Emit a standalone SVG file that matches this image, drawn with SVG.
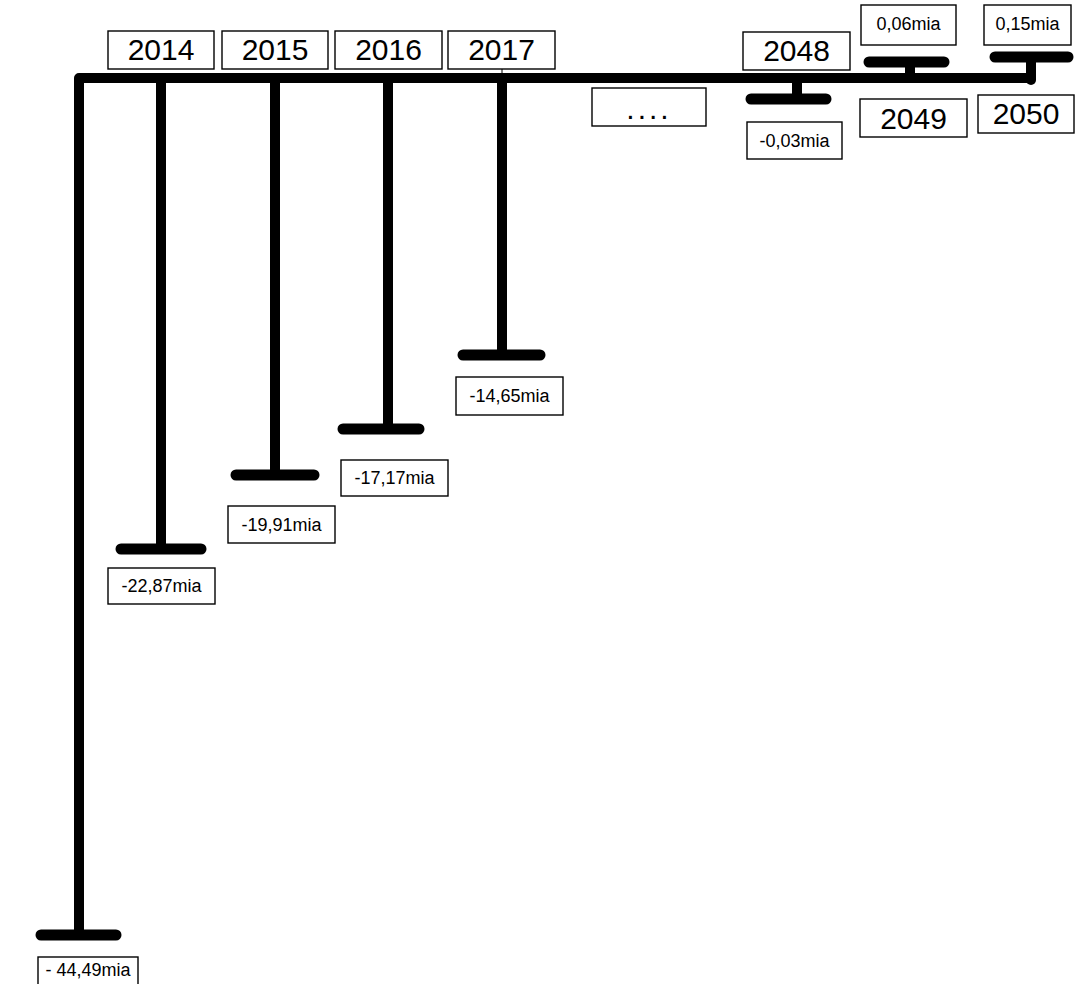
<svg xmlns="http://www.w3.org/2000/svg" width="1075" height="984" viewBox="0 0 1075 984">
<style>
.bar{fill:none;stroke:#000;stroke-width:10;stroke-linecap:round;stroke-linejoin:round}
.cap{fill:none;stroke:#000;stroke-width:11;stroke-linecap:round}
.box{fill:#fff;stroke:#000;stroke-width:1.4}
.yr{font-family:"Liberation Sans",Arial,sans-serif;font-size:30px;text-anchor:middle;fill:#000}
.val{font-family:"Liberation Sans",Arial,sans-serif;font-size:18px;text-anchor:middle;fill:#000}
</style>
<rect width="1075" height="984" fill="#fff"/>
<g id="connectors">
<path class="bar" d="M79,935 V78 H1031"/>
<line x1="502" y1="69" x2="502" y2="78" stroke="#000" stroke-width="1"/>
<path class="bar" d="M161,78 V549"/>
<path class="cap" d="M121,549 H201"/>
<path class="bar" d="M275,78 V475"/>
<path class="cap" d="M236,475 H314"/>
<path class="bar" d="M388,78 V429"/>
<path class="cap" d="M343,429 H419"/>
<path class="bar" d="M502,78 V355"/>
<path class="cap" d="M463,355 H540"/>
<path class="bar" d="M797,78 V99"/>
<path class="cap" d="M751,99 H826"/>
<path class="bar" d="M910,78 V62"/>
<path class="cap" d="M869,62 H944"/>
<path class="bar" d="M1031,80 V57"/>
<path class="cap" d="M995,57 H1068"/>
<path class="cap" d="M41,935 H116"/>
</g>
<g id="y2014"><rect class="box" x="108" y="31" width="106" height="38"/><text class="yr" x="161" y="60">2014</text></g>
<g id="y2015"><rect class="box" x="222" y="31" width="106" height="38"/><text class="yr" x="275" y="60">2015</text></g>
<g id="y2016"><rect class="box" x="335" y="31" width="107" height="38"/><text class="yr" x="388.5" y="60">2016</text></g>
<g id="y2017"><rect class="box" x="448" y="31" width="107" height="38"/><text class="yr" x="501.5" y="60">2017</text></g>
<g id="dots"><rect class="box" x="592" y="88" width="114" height="38"/><text class="yr" x="649" y="119" font-size="26" letter-spacing="3">....</text></g>
<g id="y2048"><rect class="box" x="743" y="32" width="107" height="38"/><text class="yr" x="796.5" y="61">2048</text></g>
<g id="y2049"><rect class="box" x="860" y="99" width="107" height="38"/><text class="yr" x="913.5" y="129">2049</text></g>
<g id="y2050"><rect class="box" x="978" y="95" width="96" height="38"/><text class="yr" x="1026" y="124">2050</text></g>
<g id="v2014"><rect class="box" x="108" y="568" width="107" height="36"/><text class="val" x="161.5" y="592">-22,87mia</text></g>
<g id="v2015"><rect class="box" x="228" y="506" width="107" height="37"/><text class="val" x="281.5" y="531">-19,91mia</text></g>
<g id="v2016"><rect class="box" x="341" y="460" width="107" height="36"/><text class="val" x="394.5" y="484">-17,17mia</text></g>
<g id="v2017"><rect class="box" x="456" y="377" width="107" height="38"/><text class="val" x="509.5" y="402">-14,65mia</text></g>
<g id="v2048"><rect class="box" x="747" y="122" width="95" height="37"/><text class="val" x="794.5" y="147">-0,03mia</text></g>
<g id="v2049"><rect class="box" x="861" y="5" width="95" height="40"/><text class="val" x="908.5" y="30">0,06mia</text></g>
<g id="v2050"><rect class="box" x="984" y="5" width="87" height="40"/><text class="val" x="1027.5" y="30">0,15mia</text></g>
<g id="v2013"><rect class="box" x="38" y="957" width="100" height="40"/><text class="val" x="88" y="976">- 44,49mia</text></g>
</svg>
